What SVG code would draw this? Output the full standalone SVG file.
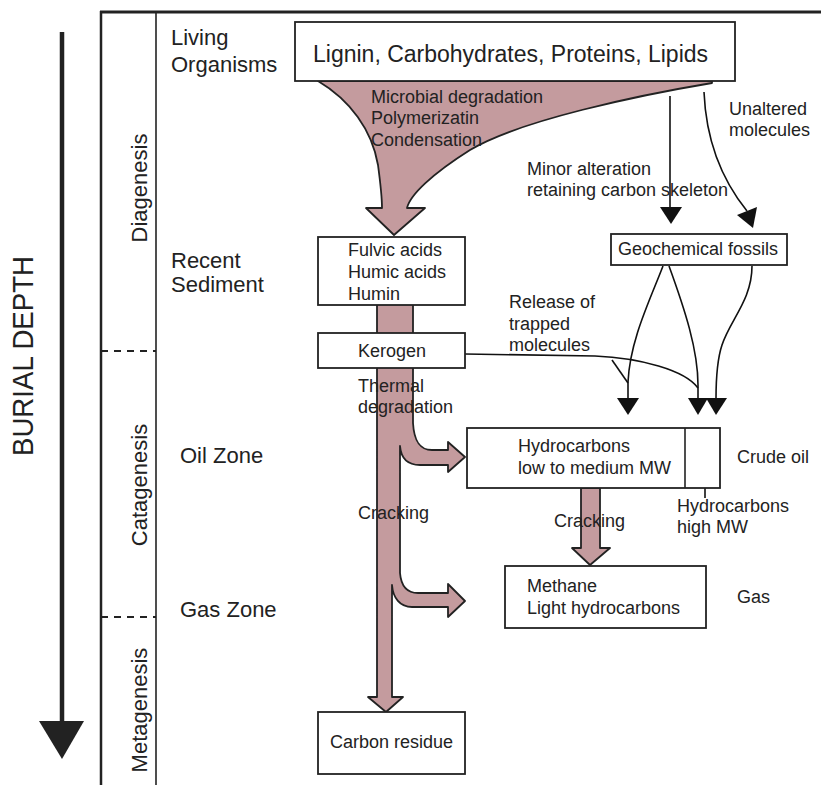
<svg xmlns="http://www.w3.org/2000/svg" width="821" height="785" viewBox="0 0 821 785">
<defs>
<style>
text{font-family:"Liberation Sans",Arial,sans-serif;fill:#222;}
.lbl{font-size:22px;}
.t{font-size:18px;}
.box{fill:#fff;stroke:#222;stroke-width:1.8;}
.pink{fill:#c49b9e;stroke:#222;stroke-width:1.8;stroke-linejoin:round;}
.ln{fill:none;stroke:#111;stroke-width:1.6;}
.hd{fill:#111;stroke:none;}
.frame{stroke:#222;fill:none;}
</style>
</defs>
<rect width="821" height="785" fill="#fff"/>

<g id="frame">
<line class="frame" x1="100" y1="12" x2="821" y2="12" stroke-width="3"/>
<line class="frame" x1="101" y1="11" x2="101" y2="785" stroke-width="2.5"/>
<line class="frame" x1="156" y1="12" x2="156" y2="785" stroke-width="1.6"/>
<line class="frame" x1="101" y1="351" x2="156" y2="351" stroke-width="2" stroke-dasharray="7,6"/>
<line class="frame" x1="101" y1="617" x2="156" y2="617" stroke-width="2" stroke-dasharray="7,6"/>
</g>

<g id="burial-depth">
<line x1="62" y1="32" x2="62" y2="725" stroke="#222" stroke-width="4.5"/>
<polygon points="39,721 84,721 62,759" fill="#222"/>
<text transform="translate(33,356) rotate(-90)" text-anchor="middle" font-size="29" textLength="200" lengthAdjust="spacingAndGlyphs">BURIAL DEPTH</text>
</g>

<g id="stages">
<text class="lbl" transform="translate(147,188) rotate(-90)" text-anchor="middle">Diagenesis</text>
<text class="lbl" transform="translate(147,485) rotate(-90)" text-anchor="middle">Catagenesis</text>
<text class="lbl" transform="translate(147,710) rotate(-90)" text-anchor="middle">Metagenesis</text>
</g>

<g id="zones">
<text class="lbl" x="171" y="45">Living</text>
<text class="lbl" x="171" y="72">Organisms</text>
<text class="lbl" x="171" y="268">Recent</text>
<text class="lbl" x="171" y="292">Sediment</text>
<text class="lbl" x="180" y="463">Oil Zone</text>
<text class="lbl" x="180" y="617">Gas Zone</text>
</g>

<g id="flows">
<path id="funnel" class="pink" d="M318,81 L712,81 L712,83 C640,95 520,120 470,150 C432,174 410,195 407,208 L425,208 L394,235 L366,208 L382,208 C382,195 380,180 378,165 C372,130 350,100 318,81 Z"/>
<rect class="pink" x="377" y="303" width="36" height="32"/>
<path id="main-stream" class="pink" d="M377,366 L413,366 L413,423 C414,440 419,450 432,450 L448,450 L448,442 L465,457 L448,472 L448,465 L420,465 C407,465 401,458 400,446 L400,573 C401,585 406,593 418,593 L448,593 L448,584 L465,601 L448,617 L448,607 L412,607 C400,607 393,598 392,585 L392,697 L403,697 L386,712 L368,697 L377,697 Z"/>
<path id="cracking-arrow" class="pink" d="M581,488 L600,488 L600,548 L610,548 L590,565 L572,548 L581,548 Z"/>
</g>

<g id="connectors">
<line class="ln" x1="670" y1="96" x2="670" y2="209"/>
<polygon class="hd" points="660,207 682,207 671,224"/>
<path class="ln" d="M704,92 C706,140 722,180 747,211"/>
<polygon class="hd" points="757,207 737,215 753,228"/>
<path class="ln" d="M663,266 C650,300 630,340 628,382 L628,399"/>
<polygon class="hd" points="617,398 639,398 628,415"/>
<path class="ln" d="M669,266 C685,310 698,350 698,385 L698,399"/>
<polygon class="hd" points="688,398 708,398 698,415"/>
<path class="ln" d="M752,266 C752,300 730,320 722,345 C717,360 716,380 716,399"/>
<polygon class="hd" points="706,398 727,398 716,415"/>
<path class="ln" d="M465,354 L595,356 C640,358 685,370 698,388"/>
<line class="ln" x1="612" y1="360" x2="628" y2="383"/>
<line class="ln" x1="705" y1="470" x2="705" y2="498"/>
</g>

<g id="node-biomolecules">
<rect class="box" x="295" y="22" width="440" height="59"/>
<text x="313" y="62" font-size="23">Lignin, Carbohydrates, Proteins,  Lipids</text>
</g>

<g id="node-fulvic">
<rect class="box" x="318" y="237" width="147" height="68"/>
<text class="t" x="348" y="256">Fulvic acids</text>
<text class="t" x="348" y="278">Humic acids</text>
<text class="t" x="348" y="300">Humin</text>
</g>

<g id="node-kerogen">
<rect class="box" x="318" y="333" width="147" height="35"/>
<text class="t" x="358" y="357">Kerogen</text>
</g>

<g id="node-geofossils">
<rect class="box" x="611" y="234" width="176" height="31"/>
<text class="t" x="618" y="255">Geochemical fossils</text>
</g>

<g id="node-hydrocarbons">
<rect class="box" x="467" y="428" width="253" height="60"/>
<line x1="685" y1="428" x2="685" y2="488" stroke="#222" stroke-width="1.6"/>
<text class="t" x="518" y="452">Hydrocarbons</text>
<text class="t" x="518" y="474">low to medium MW</text>
</g>

<g id="node-methane">
<rect class="box" x="505" y="566" width="201" height="62"/>
<text class="t" x="527" y="592">Methane</text>
<text class="t" x="527" y="614">Light hydrocarbons</text>
</g>

<g id="node-carbon">
<rect class="box" x="318" y="712" width="147" height="62"/>
<text class="t" x="330" y="748">Carbon residue</text>
</g>

<g id="labels">
<text class="t" x="371" y="103">Microbial degradation</text>
<text class="t" x="371" y="124">Polymerizatin</text>
<text class="t" x="371" y="146">Condensation</text>
<text class="t" x="527" y="175">Minor alteration</text>
<text class="t" x="527" y="196">retaining carbon skeleton</text>
<text class="t" x="729" y="115">Unaltered</text>
<text class="t" x="729" y="136">molecules</text>
<text class="t" x="509" y="308">Release of</text>
<text class="t" x="509" y="330">trapped</text>
<text class="t" x="509" y="351">molecules</text>
<text class="t" x="358" y="392">Thermal</text>
<text class="t" x="358" y="413">degradation</text>
<text class="t" x="358" y="519">Cracking</text>
<text class="t" x="554" y="527">Cracking</text>
<text class="t" x="737" y="463">Crude oil</text>
<text class="t" x="677" y="512">Hydrocarbons</text>
<text class="t" x="677" y="533">high MW</text>
<text class="t" x="737" y="603">Gas</text>
</g>
</svg>
